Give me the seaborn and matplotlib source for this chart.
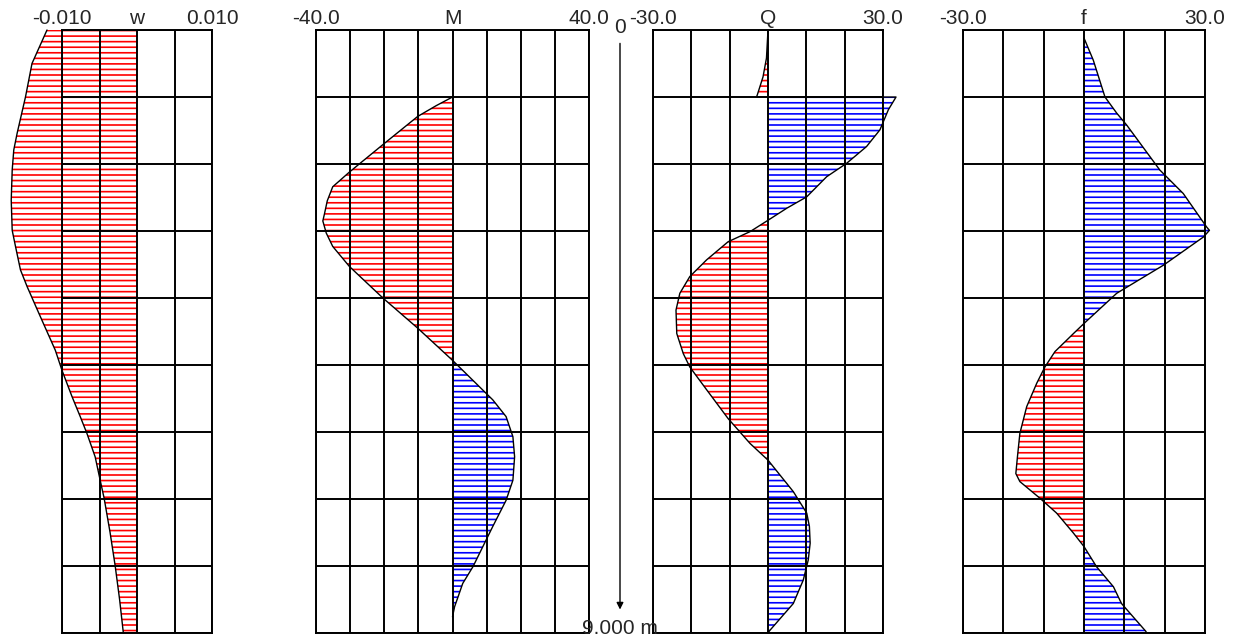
import numpy as np
import pandas as pd
import matplotlib
matplotlib.use('Agg')
import matplotlib.pyplot as plt
import matplotlib.transforms as mtransforms
import seaborn as sns

# Style
sns.set_style('white')
plt.rcParams['font.family'] = ['Liberation Sans', 'DejaVu Sans']
plt.rcParams['hatch.linewidth'] = 1.2

# Data (depth in m, value at that depth)
w_depth = [0.0, 0.5, 1.0, 1.54, 1.79, 2.09, 2.54, 2.99, 3.23, 3.58, 3.83, 4.28,
           4.78, 5.08, 5.47, 5.77, 6.02, 6.37, 6.72, 6.99, 7.5, 7.99, 8.5, 9.0]
w_value = [-0.0120, -0.0140, -0.01487, -0.01598, -0.01643, -0.01664, -0.01677,
           -0.01664, -0.0162, -0.01554, -0.01465, -0.01288, -0.01089, -0.0100,
           -0.00867, -0.00757, -0.00668, -0.00558, -0.00491, -0.00438, -0.00359,
           -0.00292, -0.00232, -0.00182]

M_depth = [1.0, 1.13, 1.29, 1.69, 2.12, 2.34, 2.55, 2.74, 2.85, 3.03, 3.23, 3.53, 4.0,
           4.45, 4.93, 5.32, 5.52, 5.77, 6.07, 6.37, 6.72, 7.02, 7.41, 7.71, 8.01,
           8.26, 8.61, 8.76]
M_value = [0.0, -4.8, -10.2, -19.9, -30.2, -35.1, -36.7, -37.5, -38.0, -37.0, -35.1, -30.2,
           -20.4, -10.2, 0.0, 7.8, 11.8, 15.7, 17.7, 18.2, 17.7, 15.7, 11.8, 8.9,
           6.0, 3.0, 0.6, 0.0]

Q_depth = [0.0, 0.42, 0.70, 0.97, 1.0, 1.0, 1.19, 1.49, 1.74, 1.99, 2.19, 2.49,
           2.66, 2.84, 3.01, 3.16, 3.43, 3.68, 3.93, 4.18, 4.53, 4.83, 5.03, 5.37,
           5.80, 6.17, 6.42, 6.89, 7.21, 7.41, 7.66, 7.91, 8.21, 8.56, 8.96, 9.0]
Q_value = [0.0, -0.4, -1.3, -2.8, -3.0, 33.4, 31.4, 29.2, 25.7, 20.5, 15.3, 10.1,
           4.9, 0.0, -4.7, -10.4, -16.0, -20.4, -23.0, -24.0, -23.8, -22.1, -20.4,
           -16.0, -10.4, -4.7, 0.0, 6.6, 10.1, 10.8, 11.0, 10.5, 9.2, 6.6, 0.5, 0.0]

f_depth = [0.12, 0.45, 1.0, 1.24, 1.42, 2.09, 2.44, 2.94, 2.99, 3.09, 3.51, 3.93,
           4.38, 4.53, 4.80, 5.03, 5.27, 5.62, 6.02, 6.37, 6.62, 6.74, 6.99, 7.21,
           7.51, 7.71, 8.01, 8.31, 8.56, 8.76, 8.98]
f_value = [0.0, 2.3, 5.2, 8.1, 10.6, 18.8, 24.6, 30.4, 31.1, 29.6, 19.7, 8.1, 0.0,
           -2.6, -7.2, -9.7, -11.7, -14.2, -15.9, -16.5, -16.9, -15.9, -10.9, -6.8,
           -2.6, 0.0, 3.1, 7.3, 9.3, 12.2, 15.4]

panel_names = ['w', 'M', 'Q', 'f']
panel_limits = [0.010, 40.0, 30.0, 30.0]
panel_columns = [4, 8, 6, 6]
panel_formats = ['{:.3f}', '{:.1f}', '{:.1f}', '{:.1f}']
panel_data = [(w_depth, w_value), (M_depth, M_value), (Q_depth, Q_value), (f_depth, f_value)]
depth_max = 9.0

# Layout (figure fractions)
W, H = 1235, 640
rects = [
    [62 / W, 7 / H, 150 / W, 603 / H],
    [316 / W, 7 / H, 273 / W, 603 / H],
    [653 / W, 7 / H, 230 / W, 603 / H],
    [963 / W, 7 / H, 242 / W, 603 / H],
]
label_size = 15

fig = plt.figure(figsize=(12.35, 6.4), dpi=100)

axes = []
for name, lim, ncol, fmt, (dep, val), rect in zip(panel_names, panel_limits, panel_columns,
                                                   panel_formats, panel_data, rects):
    ax = fig.add_axes(rect)
    df = pd.DataFrame({'depth': dep, 'value': val})
    v = df['value'].to_numpy()
    d = df['depth'].to_numpy()

    # hatched fills: negative red, positive blue
    ax.fill_betweenx(d, 0, v, where=v <= 0, interpolate=True, facecolor='none',
                     edgecolor='#ff0000', hatch='---', linewidth=0, clip_on=False, zorder=1)
    ax.fill_betweenx(d, 0, v, where=v >= 0, interpolate=True, facecolor='none',
                     edgecolor='#0000ff', hatch='---', linewidth=0, clip_on=False, zorder=1)

    sns.lineplot(data=df, x='value', y='depth', orient='y', sort=False, estimator=None,
                 color='black', linewidth=1.0, ax=ax, zorder=3)
    for ln in ax.lines:
        ln.set_clip_on(False)

    ticks = np.linspace(-lim, lim, ncol + 1)
    labels = [''] * len(ticks)
    labels[0] = fmt.format(-lim)
    labels[ncol // 2] = name
    labels[-1] = fmt.format(lim)
    ax.set_xlim(-lim, lim)
    ax.set_ylim(depth_max, 0)
    ax.set_xticks(ticks)
    ax.set_xticklabels(labels)
    ax.set_yticks(np.arange(0, depth_max + 1, 1.0))
    ax.set_yticklabels([])
    ax.xaxis.set_ticks_position('top')
    ax.tick_params(axis='x', length=0, pad=1.5, labelsize=label_size, labeltop=True,
                   labelbottom=False)
    ax.tick_params(axis='y', length=0, left=False, labelleft=False)
    ax.set_xlabel('')
    ax.set_ylabel('')
    ax.grid(True, color='black', linewidth=1.4)
    ax.set_axisbelow(False)
    for sp in ax.spines.values():
        sp.set_color('black')
        sp.set_linewidth(1.4)
        sp.set_visible(True)
    ax.patch.set_alpha(0)
    axes.append(ax)

# depth axis between M and Q
axQ = axes[2]
trans = mtransforms.blended_transform_factory(fig.transFigure, axQ.transData)
xmid = 620 / W
axQ.annotate('', xy=(xmid, 8.65), xytext=(xmid, 0.2), xycoords=trans, textcoords=trans,
             arrowprops=dict(arrowstyle='-|>', color='black', lw=1.0, mutation_scale=10,
                             shrinkA=0, shrinkB=0), annotation_clip=False)
axQ.text(xmid, -0.04, '0', transform=trans, ha='center', va='center', fontsize=label_size,
         clip_on=False)
axQ.text(xmid, depth_max - 0.07, '{:.3f} m'.format(depth_max), transform=trans, ha='center',
         va='center', fontsize=label_size, clip_on=False)

plt.savefig('out.png', dpi=100)
